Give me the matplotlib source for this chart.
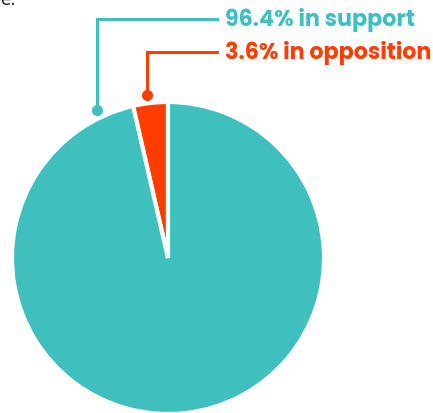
import numpy as np
import matplotlib
matplotlib.use("Agg")
import matplotlib.pyplot as plt

labels = ["3.6% in opposition", "96.4% in support"]
shares = [3.6, 96.4]
colors = ["#FF3D00", "#40BFBF"]

W, H = 433, 414
fig = plt.figure(figsize=(W / 100, H / 100), dpi=100)
ax = fig.add_axes([0, 0, 1, 1])
ax.set_xlim(0, W)
ax.set_ylim(0, H)
ax.set_aspect("equal")
ax.axis("off")

cx, cy, r = 168, 155, 156
wedges, _ = ax.pie(shares, colors=colors, startangle=90, counterclock=True,
                   center=(cx, cy), radius=r,
                   wedgeprops=dict(edgecolor="white", linewidth=3))
ax.set_xlim(0, W)
ax.set_ylim(0, H)

# leader lines: dot just outside rim, up, then across to the label
font = dict(family=["Poppins", "Lato", "DejaVu Sans"], fontweight="bold", fontsize=16)
dot_r = r + 8
specs = [
    # (wedge index, dot angle, label y from top)
    (1, 115.5, 20),
    (0, 97.5, 53),
]
for idx, ang, ly in specs:
    a = np.deg2rad(ang)
    dx, dy = cx + dot_r * np.cos(a), cy + dot_r * np.sin(a)
    y = H - ly
    c = colors[idx]
    ax.plot([dx, dx, 217], [dy, y, y], color=c, lw=2.2, solid_joinstyle="miter")
    ax.plot(dx, dy, "o", color=c, ms=7)
    ax.text(225, y, labels[idx], color=c, va="center", ha="left", **font)

# cut-off text fragment at the very top-left
fig.text(0.0, 1.0, "e.", fontsize=12, color="#222222", va="center", ha="left")

fig.savefig("out.png", dpi=100)
